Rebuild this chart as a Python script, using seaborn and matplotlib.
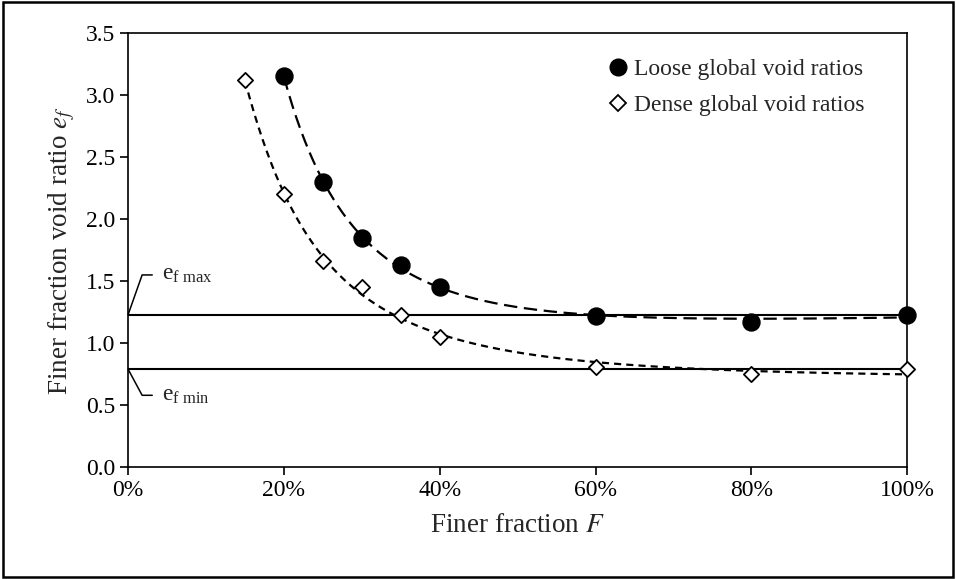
import numpy as np
import pandas as pd
import seaborn as sns
import matplotlib.pyplot as plt
from matplotlib.ticker import PercentFormatter, MultipleLocator
from matplotlib.lines import Line2D
from matplotlib.patches import Rectangle

# finer fraction F and the measured global void ratios
loose_F = [0.20, 0.25, 0.30, 0.35, 0.40, 0.60, 0.80, 1.00]
loose_e = [3.15, 2.30, 1.85, 1.63, 1.45, 1.22, 1.17, 1.23]
dense_F = [0.15, 0.20, 0.25, 0.30, 0.35, 0.40, 0.60, 0.80, 1.00]
dense_e = [3.12, 2.20, 1.66, 1.45, 1.23, 1.05, 0.81, 0.75, 0.79]
e_fmax = 1.23
e_fmin = 0.79

loose = pd.DataFrame({"F": loose_F, "e": loose_e})
dense = pd.DataFrame({"F": dense_F, "e": dense_e})


def trend(df):
    # least squares trend line, cubic in 1/F, over the range of the data
    p = np.polyfit(1 / df["F"], df["e"], 3)
    xs = np.linspace(df["F"].min(), df["F"].max(), 300)
    return pd.DataFrame({"F": xs, "e": np.polyval(p, 1 / xs)})


sns.set_style("white")
plt.rcParams["font.family"] = ["Liberation Serif", "DejaVu Serif"]
plt.rcParams["mathtext.fontset"] = "stix"

fig = plt.figure(figsize=(9.56, 5.79), dpi=100)
ax = fig.add_axes([0.134, 0.193, 0.815, 0.750])

# reference lines for the finer fraction limits
ax.axhline(e_fmax, color="black", lw=1.5, zorder=1)
ax.axhline(e_fmin, color="black", lw=1.5, zorder=1)

# trend lines
sns.lineplot(data=trend(loose), x="F", y="e", color="black", lw=1.6,
             dashes=False, ls=(0, (6, 3)), ax=ax)
sns.lineplot(data=trend(dense), x="F", y="e", color="black", lw=1.6,
             dashes=False, ls=(0, (3.2, 2.3)), ax=ax)

# measured points
sns.scatterplot(data=loose, x="F", y="e", marker="o", s=150, color="black",
                edgecolor="black", zorder=5, clip_on=False, ax=ax)
sns.scatterplot(data=dense, x="F", y="e", marker="D", s=60, facecolor="white",
                edgecolor="black", linewidth=1.3, zorder=5, clip_on=False, ax=ax)

ax.set_xlim(0, 1.0)
ax.set_ylim(0, 3.5)
ax.xaxis.set_major_locator(MultipleLocator(0.2))
ax.yaxis.set_major_locator(MultipleLocator(0.5))
ax.xaxis.set_major_formatter(PercentFormatter(1.0, decimals=0))
ax.yaxis.set_major_formatter(plt.FormatStrFormatter("%.1f"))
ax.tick_params(axis="both", direction="out", length=6, width=1.2, labelsize=17,
               bottom=True, left=True, colors="black")
for s in ax.spines.values():
    s.set_color("black")
    s.set_linewidth(1.2)

ax.set_xlabel("Finer fraction $F$", fontsize=19.5, labelpad=8)
ax.set_ylabel("Finer fraction void ratio $e_f$", fontsize=19.5, labelpad=6)

# labels of the limit lines
ax.plot([0, 0.018, 0.031], [e_fmax, 1.55, 1.55], color="black", lw=1.1, clip_on=False)
ax.plot([0, 0.018, 0.031], [e_fmin, 0.58, 0.58], color="black", lw=1.1, clip_on=False)
ax.text(0.043, 1.55, r"e$_{\mathregular{f\ max}}$", fontsize=17, va="center", ha="left")
ax.text(0.043, 0.58, r"e$_{\mathregular{f\ min}}$", fontsize=17, va="center", ha="left")

handles = [
    Line2D([], [], ls="none", marker="o", ms=12, color="black", label="Loose global void ratios"),
    Line2D([], [], ls="none", marker="D", ms=8, mfc="white", mec="black", mew=1.3,
           label="Dense global void ratios"),
]
ax.legend(handles=handles, loc="upper right", bbox_to_anchor=(0.972, 0.99), frameon=False,
          fontsize=17, handletextpad=0.05, labelspacing=0.6, handlelength=1.2)

# outer border around the whole figure
fig.patches.append(Rectangle((0.003, 0.004), 0.994, 0.992, transform=fig.transFigure,
                             fill=False, edgecolor="black", lw=1.8))

fig.savefig("out.png", dpi=100)
